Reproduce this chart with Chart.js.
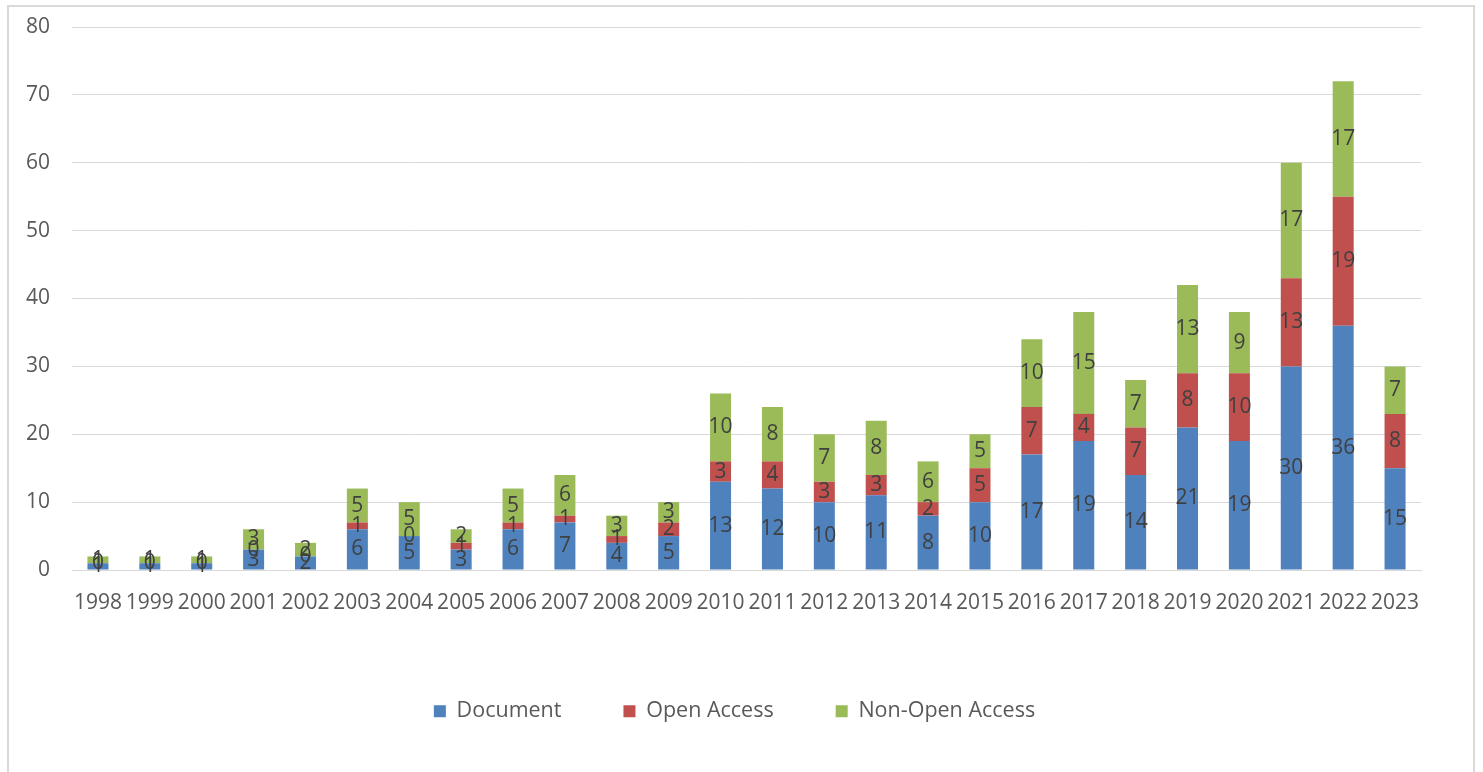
<!DOCTYPE html>
<html>
<head>
<meta charset="utf-8">
<script src="https://cdn.jsdelivr.net/npm/chart.js@4.4.1/dist/chart.umd.min.js"></script>
<style>
  html, body { margin: 0; padding: 0; background: #ffffff; }
  #wrap { position: relative; width: 1483px; height: 772px; overflow: hidden; }
  #frame { position: absolute; left: 7px; top: 5px; width: 1468px; height: 820px; border: 2px solid #d9d9d9; box-sizing: border-box; }
  #c { position: absolute; left: 0; top: 0; }
</style>
</head>
<body>
<div id="wrap">
  <div id="frame"></div>
  <canvas id="c" width="1483" height="772"></canvas>
</div>
<script>
// Publications per year, split by type
const years = ['1998','1999','2000','2001','2002','2003','2004','2005','2006','2007','2008','2009','2010',
               '2011','2012','2013','2014','2015','2016','2017','2018','2019','2020','2021','2022','2023'];
const documentCounts   = [1, 1, 1, 3, 2, 6, 5, 3, 6, 7, 4, 5, 13, 12, 10, 11, 8, 10, 17, 19, 14, 21, 19, 30, 36, 15];
const openAccess       = [0, 0, 0, 0, 0, 1, 0, 1, 1, 1, 1, 2, 3, 4, 3, 3, 2, 5, 7, 4, 7, 8, 10, 13, 19, 8];
const nonOpenAccess    = [1, 1, 1, 3, 2, 5, 5, 2, 5, 6, 3, 3, 10, 8, 7, 8, 6, 5, 10, 15, 7, 13, 9, 17, 17, 7];
const yTicks = [0, 10, 20, 30, 40, 50, 60, 70, 80];

const FONT = '"Open Sans", "Noto Sans", sans-serif';
const TEXT = '#595959';

// Writes each segment's value in the middle of its bar segment
const segmentLabels = {
  id: 'segmentLabels',
  afterDatasetsDraw(chart) {
    const ctx = chart.ctx;
    ctx.save();
    ctx.font = '21px ' + FONT;
    ctx.fillStyle = '#404040';
    ctx.textAlign = 'center';
    ctx.textBaseline = 'middle';
    chart.data.datasets.forEach((ds, di) => {
      const meta = chart.getDatasetMeta(di);
      meta.data.forEach((bar, i) => {
        const y = (bar.y + bar.base) / 2;
        ctx.fillText(String(ds.data[i]), bar.x, y);
      });
    });
    ctx.restore();
  }
};

// Centres the legend row under the whole canvas rather than the padded area
const legendShift = {
  id: 'legendShift',
  afterLayout(chart) {
    const lg = chart.legend;
    if (lg) { lg.left += 24; lg.right += 24; }
  }
};

new Chart(document.getElementById('c'), {
  type: 'bar',
  data: {
    labels: years,
    datasets: [
      { label: 'Document', data: documentCounts, backgroundColor: '#4f81bd' },
      { label: 'Open Access', data: openAccess, backgroundColor: '#c0504d' },
      { label: 'Non-Open Access', data: nonOpenAccess, backgroundColor: '#9bbb59' }
    ]
  },
  options: {
    responsive: false,
    animation: false,
    devicePixelRatio: 1,
    layout: { padding: { left: 0, right: 62, top: 27, bottom: 40 } },
    datasets: { bar: { categoryPercentage: 1, barPercentage: 0.405 } },
    plugins: {
      tooltip: { enabled: false },
      legend: {
        position: 'bottom',
        labels: {
          boxWidth: 12, boxHeight: 12, padding: 62,
          color: TEXT, font: { family: FONT, size: 21.5 }
        }
      }
    },
    scales: {
      x: {
        stacked: true,
        grid: { display: false },
        border: { display: true, color: '#d9d9d9' },
        ticks: { color: TEXT, font: { family: FONT, size: 21 }, autoSkip: false, maxRotation: 0, minRotation: 0, padding: 12 },
        afterFit(scale) { scale.height = 68.5; }
      },
      y: {
        stacked: true,
        min: 0, max: 80,
        afterBuildTicks(scale) { scale.ticks = yTicks.map(v => ({ value: v })); },
        grid: { color: '#d9d9d9', drawTicks: false },
        border: { display: false },
        ticks: { color: TEXT, font: { family: FONT, size: 21 }, padding: 22 },
        afterFit(scale) { scale.width = 72; scale.paddingTop = 0; scale.paddingBottom = 0; }
      }
    }
  },
  plugins: [segmentLabels, legendShift]
});
</script>
</body>
</html>
